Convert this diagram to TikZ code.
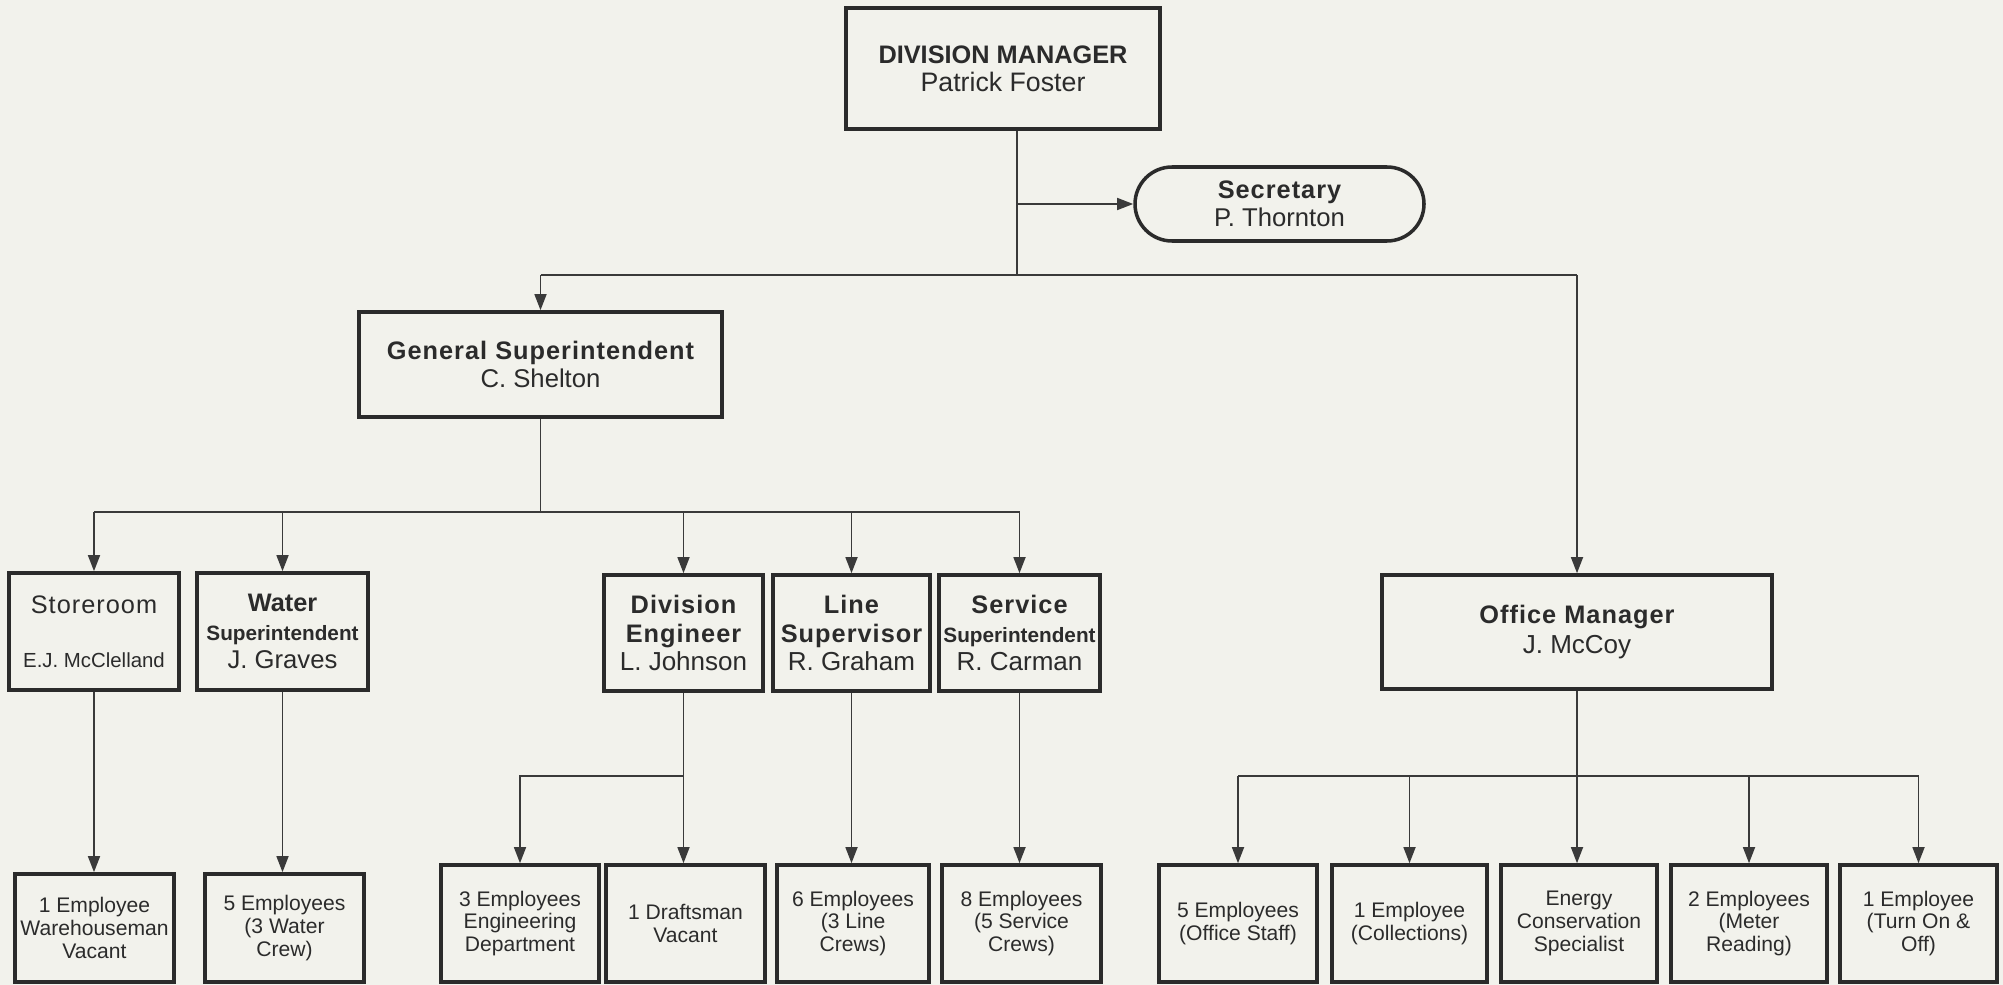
\documentclass[tikz,border=0pt]{standalone}
\usepackage{fontspec}
\setmainfont{Liberation Sans}
\newfontfamily\spaced[LetterSpace=4]{Liberation Sans}
\usetikzlibrary{arrows.meta}
\definecolor{paper}{HTML}{F2F2EC}
\definecolor{ink}{HTML}{2B2B2B}
\definecolor{wire}{HTML}{3A3A3A}
\newcommand\hd[1]{{\spaced\bfseries #1}}
\newcommand\nm[2]{{\fontsize{#1}{8}\selectfont #2}}
\tikzset{
  orgbox/.style={draw=ink, line width=1pt, fill=paper, inner sep=0pt,
    align=center, text=ink, font=\fontsize{7.2}{8}\selectfont},
  size/.style 2 args={minimum width=#1*0.01cm, minimum height=#2*0.01cm},
  crewbox/.style={orgbox, font=\fontsize{6}{6.5}\selectfont},
  conn/.style={draw=wire, line width=0.55pt},
  feed/.style={conn, -{Triangle[length=4.6pt,width=3.4pt]}},
}
\begin{document}
\begin{tikzpicture}[x=0.01cm,y=-0.01cm]
\fill[paper] (0,0) rectangle (2003,985);
\useasboundingbox (0,0) rectangle (2003,985);

% management
\node[orgbox,size={314}{121}] (dm) at (1003,68.5)
  {{\bfseries DIVISION MANAGER}\\\nm{7.6}{Patrick Foster}};
\node[orgbox,size={289}{74},rounded corners=0.37cm] (sec) at (1279.5,204)
  {\hd{Secretary}\\\nm{7.3}{P. Thornton}};
\node[orgbox,size={363}{105}] (gs) at (540.5,364.5)
  {\hd{General Superintendent}\\\nm{7.3}{C. Shelton}};
\node[orgbox,size={390}{114}] (om) at (1577,632)
  {\hd{Office Manager}\\[0.5pt]\nm{7.4}{J. McCoy}};

% supervisors
\node[orgbox,size={170}{117}] (store) at (94,631.5)
  {{\spaced Storeroom}\\[7.4pt]\nm{5.8}{E.J. McClelland}};
\node[orgbox,size={171}{117}] (water) at (282.5,631.5)
  {{\bfseries Water}\\\nm{5.9}{\bfseries Superintendent}\\\nm{7.3}{J. Graves}};
\node[orgbox,size={159}{116}] (de) at (683.5,633)
  {\hd{Division}\\\hd{Engineer}\\\nm{7.4}{L. Johnson}};
\node[orgbox,size={157}{116}] (line) at (851.5,633)
  {\hd{Line}\\\hd{Supervisor}\\\nm{7.4}{R. Graham}};
\node[orgbox,size={161}{116}] (serv) at (1019.5,633)
  {\hd{Service}\\\nm{5.9}{\bfseries Superintendent}\\\nm{7.4}{R. Carman}};

% crews and staff
\node[crewbox,size={159}{108}] (b1) at (94.5,928) {1 Employee\\Warehouseman\\Vacant};
\node[crewbox,size={159}{108}] (b2) at (284.5,928) {5 Employees\\(3 Water\\Crew)};
\node[crewbox,size={158}{117}] (b3) at (520,923.5) {3 Employees\\Engineering\\Department};
\node[crewbox,size={159}{117}] (b4) at (685.5,923.5) {1 Draftsman\\Vacant};
\node[crewbox,size={152}{117}] (b5) at (853,923.5) {6 Employees\\(3 Line\\Crews)};
\node[crewbox,size={159}{117}] (b6) at (1021.5,923.5) {8 Employees\\(5 Service\\Crews)};
\node[crewbox,size={158}{117}] (b7) at (1238,923.5) {5 Employees\\(Office Staff)};
\node[crewbox,size={155}{117}] (b8) at (1409.5,923.5) {1 Employee\\(Collections)};
\node[crewbox,size={156}{117}] (b9) at (1579,923.5) {Energy\\Conservation\\Specialist};
\node[crewbox,size={156}{117}] (b10) at (1749,923.5) {2 Employees\\(Meter\\Reading)};
\node[crewbox,size={157}{117}] (b11) at (1918.5,923.5) {1 Employee\\(Turn On \&\\Off)};

% junctions
\coordinate (top) at (1017,275);
\coordinate (secfork) at (1017,204);
\coordinate (mid) at (540,512);
\coordinate (eng) at (683,776);
\coordinate (off) at (1577,776);

% division manager
\draw[conn] (top |- dm.south) -- (top);
\draw[feed] (secfork) -- (sec.west);
\draw[conn] (gs.north |- top) -- (om.north |- top);
\draw[feed] (gs.north |- top) -- (gs.north);
\draw[feed] (om.north |- top) -- (om.north);

% general superintendent
\draw[conn] (gs.south) -- (gs.south |- mid);
\draw[conn] (store.north |- mid) -- (serv.north |- mid);
\foreach \n in {store,water,de,line,serv}
  \draw[feed] (\n.north |- mid) -- (\n.north);

% supervisors to crews
\draw[feed] (store.south) -- (store.south |- b1.north);
\draw[feed] (water.south) -- (water.south |- b2.north);
\draw[feed] (de.south) -- (de.south |- b4.north);
\draw[feed] (de.south |- eng) -| (b3.north);
\draw[feed] (line.south) -- (line.south |- b5.north);
\draw[feed] (serv.south) -- (serv.south |- b6.north);

% office manager
\draw[feed] (om.south) -- (om.south |- b9.north);
\draw[conn] (b7.north |- off) -- (b11.north |- off);
\foreach \n in {b7,b8,b10,b11}
  \draw[feed] (\n.north |- off) -- (\n.north);
\end{tikzpicture}
\end{document}
